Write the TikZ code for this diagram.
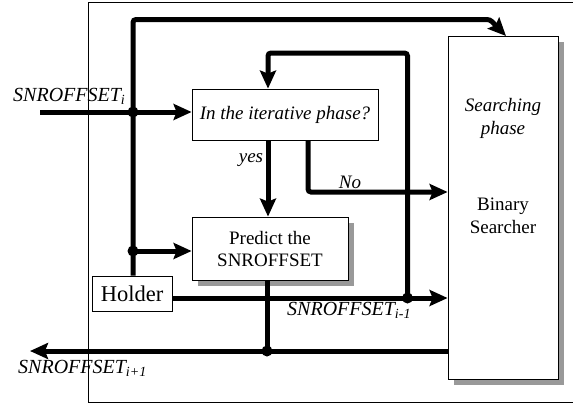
\documentclass[tikz,border=0pt]{standalone}
\usepackage{fontspec}
\setmainfont{Liberation Serif}
\usetikzlibrary{arrows.meta,shadows}
\definecolor{shadowgray}{RGB}{153,153,153}
\begin{document}
\begin{tikzpicture}[x=1pt,y=-1pt,
  wire/.style={line width=5pt, rounded corners=3pt},
  arrwire/.style={wire, -{Stealth[length=18pt,width=16pt,inset=3pt]}},
  box/.style={draw, line width=0.8pt, fill=white, inner sep=0pt, align=center,
    font=\fontsize{19}{22}\selectfont},
  shbox/.style={box, drop shadow={shadow xshift=6pt, shadow yshift=-6pt, fill=shadowgray, opacity=1}},
  lbl/.style={inner sep=0pt, font=\fontsize{20}{22}\selectfont\itshape},
  dot/.style={circle, fill=black, inner sep=0pt, minimum size=11pt}
]
\useasboundingbox (0,0) rectangle (573,407);
% outer frame
\draw[line width=0.8pt] (575,2) -- (88,2) -- (88,402) -- (575,402);

% boxes
\node[box, minimum width=186pt, minimum height=51pt] (iter) at (285,114.5) {\itshape In the iterative phase?};
\node[shbox, minimum width=156pt, minimum height=63pt] (pred) at (270,248.5) {Predict the\\SNROFFSET};
\node[shbox, minimum width=110pt, minimum height=343pt] (bin) at (503,207.5) {};
\node[box, minimum width=80pt, minimum height=35pt, font=\fontsize{22.5}{24}\selectfont] (hold) at (132,293.5) {Holder};

% texts inside searcher
\node[inner sep=0pt, align=center, font=\fontsize{19}{23}\selectfont\itshape] (sp) at (503,118) {Searching\\phase};
\node[inner sep=0pt, align=center, font=\fontsize{19}{23}\selectfont] (bs) at (503,216) {Binary\\Searcher};

% coordinates
\coordinate (inL) at (40,112);
\coordinate (j1) at (133,112);
\coordinate (j2) at (133,251);
\coordinate (tl) at (133,19.5);
\coordinate (tr) at (490,19.5);
\coordinate (bt) at (506,36);
\coordinate (j3) at (407.5,298);
\coordinate (lpA) at (407.5,53);
\coordinate (lpB) at (268,53);
\coordinate (ys) at (268,140);
\coordinate (ns) at (308,140);
\coordinate (nc) at (308,192);
\coordinate (pb) at (267,280);
\coordinate (j4) at (267,351);
\coordinate (bl) at (448,351);
\coordinate (outL) at (30,351);
\coordinate (hr) at (172,298);

% wires
\draw[arrwire] (hold.north -| tl) -- (tl) -- (tr) -- (bt);
\draw[arrwire] (inL) -- (inL -| iter.west);
\draw[arrwire] (j2) -- (j2 -| pred.west);
\draw[arrwire] (j3) -- (lpA) -- (lpB) -- (lpB |- iter.north);
\draw[arrwire] (ys) -- (ys |- pred.north);
\draw[arrwire] (ns) -- (nc) -- (nc -| bin.west);
\draw[arrwire] (hr) -- (hr -| bin.west);
\draw[wire] (pb) -- (j4);
\draw[arrwire] (bl) -- (outL);

% junction dots
\node[dot] (d1) at (j1) {};
\node[dot] (d2) at (j2) {};
\node[dot] (d3) at (j3) {};
\node[dot] (d4) at (j4) {};

% labels
\node[lbl, anchor=base west] (li) at (13,101) {SNROFFSET\textsubscript{\itshape i}};
\node[lbl, font=\fontsize{19}{22}\selectfont\itshape] (ly) at (251,160) {yes};
\node[lbl, font=\fontsize{19}{22}\selectfont\itshape] (ln) at (350,182) {No};
\node[lbl, anchor=base west] (lm) at (287,315) {SNROFFSET\textsubscript{\itshape i-1}};
\node[lbl, anchor=base west] (lp) at (18,373) {SNROFFSET\textsubscript{\itshape i+1}};
\end{tikzpicture}
\end{document}
